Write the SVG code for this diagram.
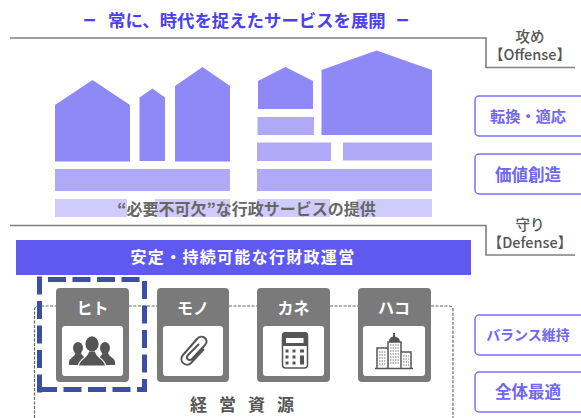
<svg xmlns="http://www.w3.org/2000/svg" width="581" height="418" viewBox="0 0 581 418">
<style>
text{font-family:"Noto Sans CJK JP","Noto Sans",sans-serif;text-anchor:middle;font-weight:700}
.d{fill:#8f88f7}.m{fill:#b0a9f8}.l{fill:#cfcbfc}
.rule{fill:none;stroke:#808080;stroke-width:1.6}
.btn rect{fill:#fff;stroke:#7b72f6;stroke-width:1.5}
.btn text{fill:#6f66f2}
.side{fill:#555;font-size:14.500px;font-weight:500}
.card{fill:#7a7a7a}.inner{fill:#fff}.ct{fill:#fff;font-size:16px}
.ic{fill:#555}
.conn{fill:none;stroke:#666;stroke-width:1.2;stroke-dasharray:3 1.5}
.hl{fill:none;stroke:#3c4fa2;stroke-width:5;stroke-dasharray:18 6.5}
.win{fill:none;stroke:#777;stroke-width:1.2;stroke-dasharray:1.5 1}
</style>
<rect width="581" height="418" fill="#fff"/>
<text id="title" y="27" font-size="17.400" fill="#4a40ee" style="text-anchor:start"><tspan x="83" font-size="24">–</tspan><tspan x="108">常に、時代を捉えたサービスを展開</tspan><tspan x="396" font-size="24">–</tspan></text>
<g id="rules">
<path class="rule" d="M10 38H486V67.500H575"/>
<path class="rule" d="M10 225.500H486V255H575"/>
</g>
<text class="side"><tspan x="530" y="41.500">攻め</tspan><tspan x="530" y="59.500">【Offense】</tspan></text>
<text class="side"><tspan x="530" y="230">守り</tspan><tspan x="530" y="248">【Defense】</tspan></text>
<g id="buildings">
<path class="d" d="M55 105L92.500 80L130 105V161.500H55Z"/>
<path class="d" d="M139.500 97.500L152.500 88.500L165 97.500V161H139.500Z"/>
<path class="d" d="M175 86L202.500 67L230 86V161.500H175Z"/>
<path class="d" d="M258 81L285.500 67L313 81V109H258Z"/>
<path class="d" d="M321.500 70L376.500 50.500L432 70V135H321.500Z"/>
<rect class="m" x="55" y="169" width="175" height="22"/>
<rect class="m" x="257.500" y="117" width="56.500" height="18"/>
<rect class="m" x="257" y="142.500" width="74" height="18.500"/>
<rect class="m" x="343" y="142.500" width="89" height="18"/>
<rect class="m" x="257" y="169" width="175" height="22"/>
<rect class="l" x="55" y="199" width="72" height="18"/>
<rect class="l" x="155" y="199" width="75" height="18"/>
<rect class="l" x="257" y="199" width="73" height="18"/>
<rect class="l" x="357" y="199" width="75" height="18"/>
</g>
<text x="246.500" y="214.500" font-size="16" fill="#666">“必要不可欠”な行政サービスの提供</text>
<g class="btn" id="b1"><rect x="475" y="96" width="110" height="40" rx="4"/><text x="528" y="122" font-size="15.200">転換・適応</text></g>
<g class="btn" id="b2"><rect x="475" y="154" width="110" height="40" rx="4"/><text x="528" y="180.500" font-size="16.500">価値創造</text></g>
<g class="btn" id="b3"><rect x="475" y="315" width="110" height="40" rx="4"/><text x="528" y="340" font-size="14">バランス維持</text></g>
<g class="btn" id="b4"><rect x="475" y="372" width="110" height="40" rx="4"/><text x="528" y="398" font-size="16.500">全体最適</text></g>
<g id="banner"><rect x="16" y="240" width="455" height="35" fill="#6059f0"/><text x="243" y="263" font-size="16" letter-spacing="1.300" fill="#fff">安定・持続可能な行財政運営</text></g>
<g id="connectors">
<path class="conn" d="M34.500 418V310Q34.500 306 38.500 306H56M129 306H157M229 306H257M330 306H358M431 306H449Q453 306 453 310V418"/>
</g>
<g id="hito"><rect class="card" x="56" y="288" width="73" height="94" rx="4"/><rect class="inner" x="62" y="326" width="61" height="50" rx="3"/><text class="ct" x="92.500" y="314">ヒト</text>
<ellipse class="ic" cx="78" cy="348" rx="5" ry="6"/><ellipse class="ic" cx="105" cy="348" rx="5" ry="6"/>
<path class="ic" d="M69 365V362C69 358 75 357 75.500 353H81C82 357 88 358 88 362V365Z"/>
<path class="ic" d="M96 365V362C96 358 102 357 102.500 353H108C109 357 115 358 115 362V365Z"/>
<g stroke="#fff" stroke-width="1.200"><ellipse class="ic" cx="92" cy="344" rx="7" ry="8"/><path class="ic" d="M78.500 366C78.500 359 88 358 88.500 351H95.500C96 358 105.500 359 105.500 366Z"/></g>
<ellipse class="ic" cx="92" cy="344" rx="6.500" ry="7.500"/>
</g>
<g id="mono"><rect class="card" x="157" y="288" width="72" height="94" rx="4"/><rect class="inner" x="163" y="326" width="60" height="50" rx="3"/><text class="ct" x="193" y="314">モノ</text>
<path d="M204 349L191 363C186 368 178 361 183 355L197 339C202 333 210 340 205 345L192 359C189 362 185 358 188 355L199 344" fill="none" stroke="#555" stroke-width="2"/>
</g>
<g id="kane"><rect class="card" x="257" y="288" width="73" height="94" rx="4"/><rect class="inner" x="263" y="326" width="61" height="50" rx="3"/><text class="ct" x="293.500" y="314">カネ</text>
<rect x="282.500" y="333" width="25" height="35" rx="3" fill="#fff" stroke="#555" stroke-width="1.500"/>
<path class="ic" d="M282 346V335Q282 332 285 332H305Q308 332 308 335V346Z"/><rect class="inner" x="286" y="338" width="17.500" height="5"/>
<path class="ic" d="M285.500 349.500h3v3h-3zM292.500 349.500h3v3h-3zM300 349.500h4v3h-4zM285.500 355.500h3v3h-3zM292.500 355.500h3v3h-3zM300 355.500h4v9h-4zM285.500 361.500h3v3h-3zM292.500 361.500h3v3h-3z"/>
</g>
<g id="hako"><rect class="card" x="358" y="288" width="73" height="94" rx="4"/><rect class="inner" x="363" y="326" width="62" height="50" rx="3"/><text class="ct" x="394" y="314">ハコ</text>
<path d="M377 368V348H388M388 368V342H401V368M401 352H411V368M375 368.500H413" fill="none" stroke="#555" stroke-width="1.500"/>
<path class="ic" d="M389 342C389 338 391 337 393 336.500V333H395V336.500C397 337 400 338 400 342Z"/>
<path class="win" d="M379 352H386M379 355H386M379 358H386M379 361H386M379 364H386M390 345H399M390 348H399M390 351H399M390 354H399M390 357H399M390 360H399M390 363H399M403 356H409M403 359H409M403 362H409M403 365H409"/>
</g>
<g id="highlight">
<path class="hl" d="M48 279.500H144.500V389.500H39.500"/>
<path class="hl" d="M39.500 392.500V276.500"/>
</g>
<text x="190" y="411" font-size="17" fill="#555" letter-spacing="12" style="text-anchor:start">経営資源</text>
</svg>
